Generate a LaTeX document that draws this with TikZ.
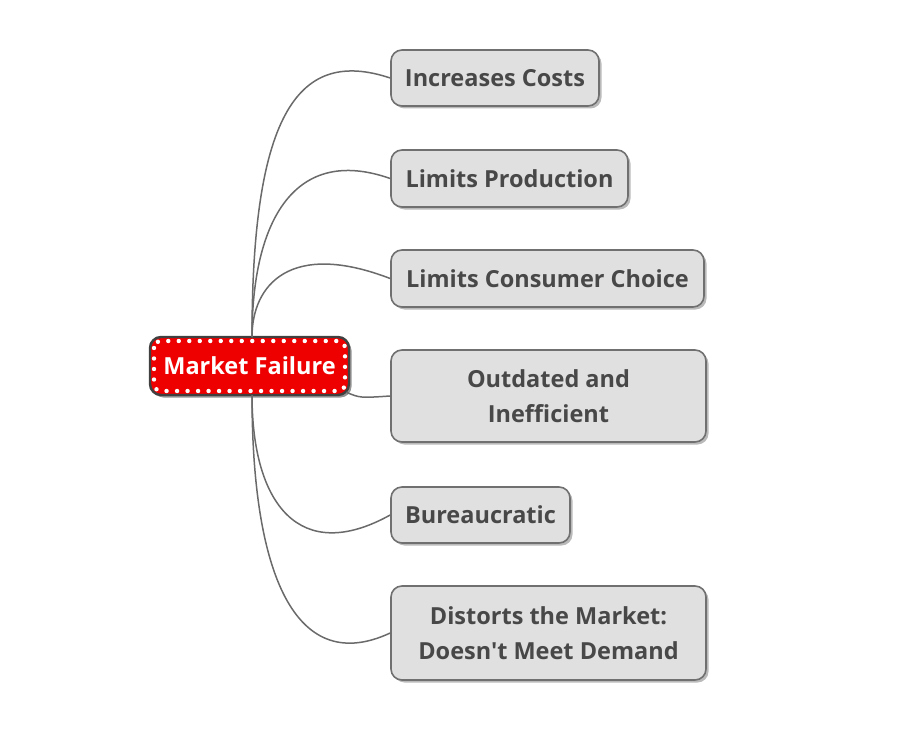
\documentclass[tikz,border=0pt]{standalone}
\usepackage{fontspec}
\setmainfont{Open Sans}[Ligatures=TeXOff]
\usetikzlibrary{shadows,calc}
\definecolor{boxfill}{HTML}{E0E0E0}
\definecolor{boxline}{HTML}{707070}
\definecolor{txt}{HTML}{484848}
\definecolor{mfred}{HTML}{EE0000}
\definecolor{conn}{HTML}{6A6A6A}
\tikzset{
  topic/.style={draw=boxline, line width=1.6pt, fill=boxfill, rounded corners=11pt,
    text=txt, font=\fontsize{23.5}{35}\selectfont\bfseries, align=center, inner sep=0pt,
    drop shadow={shadow xshift=2.5pt, shadow yshift=-2.5pt, fill=black!45, opacity=0.6}},
  central/.style={draw=black!75, line width=2.4pt, fill=mfred, rounded corners=11pt,
    text=white, font=\fontsize{23.5}{28}\selectfont\bfseries, inner sep=0pt,
    drop shadow={shadow xshift=2.5pt, shadow yshift=-2.5pt, fill=black!60, opacity=0.7}},
  conn/.style={draw=conn, line width=1.5pt},
  dots/.style={draw=white, line width=4.4pt, line cap=round, dash pattern=on 0pt off 10.5pt}
}
\begin{document}
\begin{tikzpicture}[x=1pt,y=-1pt]
\useasboundingbox (0,0) rectangle (904,746);
\node[central, minimum width=199pt, minimum height=58pt] (mf) at (249.5,366) {Market Failure};
\draw[dots, rounded corners=7pt] (154,341) rectangle (345,391);
\node[topic, minimum width=208pt, minimum height=56pt] (b1) at (495,78) {Increases Costs};
\node[topic, minimum width=237pt, minimum height=57pt] (b2) at (509.5,178.5) {Limits Production};
\node[topic, minimum width=313pt, minimum height=57pt] (b3) at (547.5,278.5) {Limits Consumer Choice};
\node[topic, minimum width=315pt, minimum height=92pt] (b4) at (548.5,396) {Outdated and\\Inefficient};
\node[topic, minimum width=179pt, minimum height=56pt] (b5) at (480.5,515) {Bureaucratic};
\node[topic, minimum width=315pt, minimum height=94pt] (b6) at (548.5,633) {Distorts the Market:\\Doesn't Meet Demand};
\coordinate (t) at (252,337);
\coordinate (bt) at (252,395);
\draw[conn] (t) .. controls (252,110) and (300,48) .. (b1.west);
\draw[conn] (t) .. controls (252,220) and (295,145) .. (b2.west);
\draw[conn] (t) .. controls (252,285) and (290,240) .. (b3.west);
\draw[conn] (mf.south east) ++(-4,-4) .. controls (360,398) .. (b4.west);
\draw[conn] (bt) .. controls (252,505) and (300,565) .. (b5.west);
\draw[conn] (bt) .. controls (252,585) and (300,675) .. (b6.west);
\end{tikzpicture}
\end{document}
